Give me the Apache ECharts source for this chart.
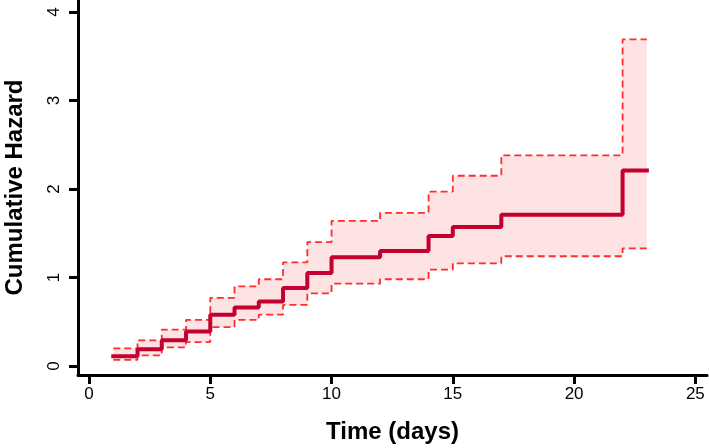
<!DOCTYPE html>
<html>
<head>
<meta charset="utf-8">
<script src="https://cdn.jsdelivr.net/npm/echarts@6/dist/echarts.min.js"></script>
<style>
html,body{margin:0;padding:0;background:#fff;}
#chart{width:709px;height:448px;}
</style>
</head>
<body>
<div id="chart"></div>
<script>
// Step times (days) at which the estimate changes; last point ends the curve
var times  = [1, 2, 3, 4, 5, 6, 7, 8, 9, 10, 12, 14, 15, 17, 22, 23];
// Cumulative hazard estimate
var hazard = [0.11, 0.19, 0.29, 0.39, 0.58, 0.66, 0.73, 0.88, 1.05, 1.23, 1.30, 1.47, 1.57, 1.71, 2.21, 2.21];
// Upper confidence limit
var upper  = [0.20, 0.29, 0.41, 0.52, 0.77, 0.90, 0.98, 1.17, 1.40, 1.64, 1.73, 1.97, 2.15, 2.38, 3.69, 3.69];
// Lower confidence limit
var lower  = [0.07, 0.12, 0.21, 0.27, 0.44, 0.52, 0.58, 0.69, 0.82, 0.93, 0.98, 1.09, 1.16, 1.24, 1.33, 1.33];
// Tick labels
var xTicks = [0, 5, 10, 15, 20, 25];
var yTicks = [0, 1, 2, 3, 4];

function pairs(xs, ys) { return xs.map(function (x, i) { return [x, ys[i]]; }); }

var font = '"Liberation Sans", Arial, sans-serif';
var chart = echarts.init(document.getElementById('chart'), null, { renderer: 'canvas' });
chart.setOption({
  animation: false,
  backgroundColor: '#ffffff',
  grid: { left: 78, right: 2, top: 0, bottom: 73, outerBoundsMode: 'none', containLabel: false },
  xAxis: {
    type: 'value', min: -0.454, max: 25.48, z: 10,
    name: 'Time (days)', nameLocation: 'middle', nameGap: 45,
    nameTextStyle: { fontFamily: font, fontSize: 24, fontWeight: 'bold', color: '#000' },
    axisLine: { show: true, onZero: false, lineStyle: { color: '#000', width: 3 } },
    axisTick: { show: true, length: 9, lineStyle: { color: '#000', width: 3 }, customValues: xTicks },
    axisLabel: { fontFamily: font, fontSize: 17, color: '#000', margin: 11, customValues: xTicks },
    splitLine: { show: false }
  },
  yAxis: {
    type: 'value', min: -0.102, max: 4.136, z: 10,
    name: 'Cumulative Hazard', nameLocation: 'middle', nameGap: 51,
    nameTextStyle: { fontFamily: font, fontSize: 24, fontWeight: 'bold', color: '#000' },
    axisLine: { show: true, onZero: false, lineStyle: { color: '#000', width: 3 } },
    axisTick: { show: true, length: 9, lineStyle: { color: '#000', width: 3 }, customValues: yTicks },
    axisLabel: { fontFamily: font, fontSize: 17, color: '#000', margin: 15, rotate: 90, customValues: yTicks },
    splitLine: { show: false }
  },
  series: [
    { type: 'line', name: 'bandUpper', step: 'end', data: pairs(times, upper),
      showSymbol: false, symbol: 'none', lineStyle: { opacity: 0 },
      areaStyle: { color: '#fde3e3', opacity: 1, origin: 'start' }, silent: true, z: 1 },
    { type: 'line', name: 'bandLower', step: 'end', data: pairs(times, lower),
      showSymbol: false, symbol: 'none', lineStyle: { opacity: 0 },
      areaStyle: { color: '#ffffff', opacity: 1, origin: 'start' }, silent: true, z: 2 },
    { type: 'line', name: 'lower', step: 'end', data: pairs(times, lower),
      showSymbol: false, symbol: 'none',
      lineStyle: { color: '#ff2d2d', width: 1.8, type: [7, 4] }, z: 3 },
    { type: 'line', name: 'upper', step: 'end', data: pairs(times, upper),
      showSymbol: false, symbol: 'none',
      lineStyle: { color: '#ff2d2d', width: 1.8, type: [7, 4] }, z: 3 },
    { type: 'line', name: 'hazard', step: 'end', data: pairs(times, hazard),
      showSymbol: false, symbol: 'none',
      lineStyle: { color: '#c3002f', width: 4, cap: 'square' }, z: 4 }
  ]
});
</script>
</body>
</html>
